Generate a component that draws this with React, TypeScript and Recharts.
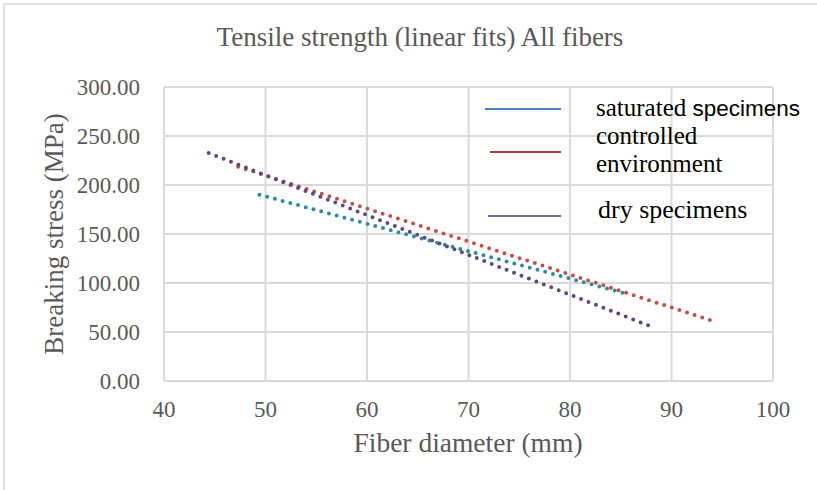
import React from "react";
import { LineChart, Line, XAxis, YAxis, CartesianGrid } from "recharts";

// linear fit end points (fiber diameter mm, stress MPa)
const saturated = [
  { x: 49.4, y: 190.1 },
  { x: 85.9, y: 88.1 },
];
const controlled = [
  { x: 47.3, y: 218.7 },
  { x: 93.9, y: 61.9 },
];
const dry = [
  { x: 44.4, y: 232.7 },
  { x: 87.7, y: 56.8 },
];

const xTicks = [40, 50, 60, 70, 80, 90, 100];
const yTicks = [0, 50, 100, 150, 200, 250, 300];

const TITLE = "Tensile strength (linear fits) All fibers";
const X_TITLE = "Fiber diameter (mm)";
const Y_TITLE = "Breaking stress (MPa)";

const W = 817;
const H = 490;
const serif = "Liberation Serif";
const sans = "Liberation Sans";
const grey = "#595959";
const gridGrey = "#dadada";

export default function App() {
  return (
    <div style={{ position: "absolute", left: 0, top: 0, width: W, height: H, background: "#fff" }}>
      <LineChart
        width={W}
        height={H}
        margin={{ top: 87, right: 44, bottom: 0, left: 0 }}
      >
        <CartesianGrid stroke={gridGrey} strokeWidth={2} />
        <XAxis
          type="number"
          dataKey="x"
          domain={[40, 100]}
          ticks={xTicks}
          interval={0}
          allowDataOverflow
          height={109}
          tickSize={0}
          tickMargin={20}
          axisLine={{ stroke: gridGrey, strokeWidth: 2 }}
          tickLine={false}
          tick={{ fontSize: 23, fill: grey, fontFamily: serif }}
        />
        <YAxis
          type="number"
          domain={[0, 300]}
          ticks={yTicks}
          interval={0}
          width={164}
          tickSize={0}
          tickMargin={24}
          axisLine={{ stroke: gridGrey, strokeWidth: 2 }}
          tickLine={false}
          tick={{ fontSize: 23, fill: grey, fontFamily: serif }}
          tickFormatter={(v) => Number(v).toFixed(2)}
        />
        <Line
          data={controlled}
          dataKey="y"
          type="linear"
          stroke="#c0504d"
          strokeWidth={4}
          strokeDasharray="0 8"
          strokeLinecap="round"
          dot={false}
          activeDot={false}
          isAnimationActive={false}
        />
        <Line
          data={saturated}
          dataKey="y"
          type="linear"
          stroke="#2f8aa0"
          strokeWidth={4}
          strokeDasharray="0 8"
          strokeLinecap="round"
          dot={false}
          activeDot={false}
          isAnimationActive={false}
        />
        <Line
          data={dry}
          dataKey="y"
          type="linear"
          stroke="#5f497a"
          strokeWidth={4}
          strokeDasharray="0 8"
          strokeLinecap="round"
          dot={false}
          activeDot={false}
          isAnimationActive={false}
        />
      </LineChart>

      {/* title, axis titles, legend and outer border */}
      <svg
        width={W}
        height={H}
        style={{ position: "absolute", left: 0, top: 0, pointerEvents: "none", fontFamily: serif }}
      >
        <rect x={4} y={4} width={W} height={H} fill="none" stroke="#d9d9d9" strokeWidth={1.5} />
        <text x={420} y={46} textAnchor="middle" fontSize={27} fill={grey}>
          {TITLE}
        </text>
        <text x={468} y={452} textAnchor="middle" fontSize={27.5} fill={grey}>
          {X_TITLE}
        </text>
        <text
          x={63}
          y={234}
          textAnchor="middle"
          fontSize={27}
          fill={grey}
          transform="rotate(-90 63 234)"
        >
          {Y_TITLE}
        </text>

        <line x1={485} y1={109} x2={561} y2={109} stroke="#4f81bd" strokeWidth={2} />
        <text x={596} y={116} fontSize={25} fill="#000">
          saturated{" "}
          <tspan fontSize={22.5} style={{ fontFamily: sans }}>
            specimens
          </tspan>
        </text>

        <line x1={490} y1={152} x2={561} y2={152} stroke="#b03c3a" strokeWidth={2} />
        <text x={596} y={144} fontSize={25} fill="#000">
          controlled
        </text>
        <text x={596} y={172} fontSize={25} fill="#000">
          environment
        </text>

        <line x1={488} y1={216} x2={561} y2={216} stroke="#7b64a0" strokeWidth={2} />
        <text x={598} y={218} fontSize={26} fill="#000">
          dry specimens
        </text>
      </svg>
    </div>
  );
}
